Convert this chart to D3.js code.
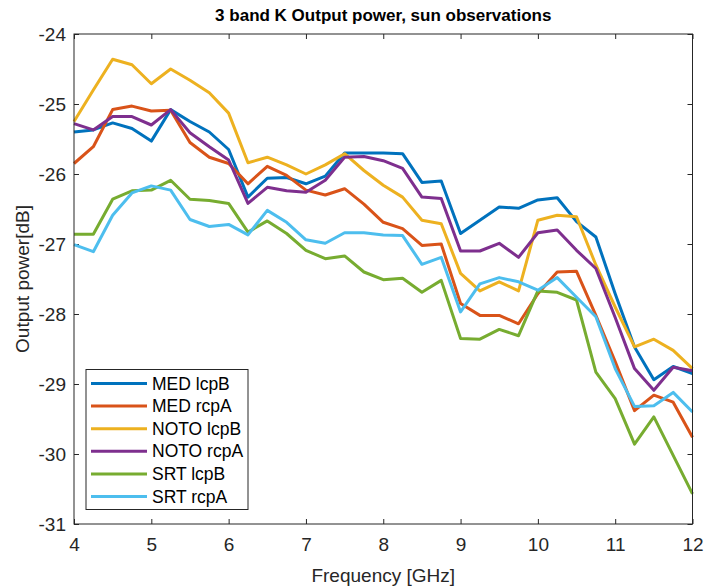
<!DOCTYPE html>
<html>
<head>
<meta charset="utf-8">
<script src="https://cdn.jsdelivr.net/npm/d3@7"></script>
<style>
  body { margin: 0; background: #fff; }
  svg { display: block; font-family: "Liberation Sans", Arial, sans-serif; }
  .axis path { display: none; }
  .axis line { stroke: #262626; }
  .axis text { fill: #262626; font-size: 19px; }
</style>
</head>
<body>
<div class="chart"></div>
<script>
const freqs = [4, 4.25, 4.5, 4.75, 5, 5.25, 5.5, 5.75, 6, 6.25, 6.5, 6.75, 7, 7.25, 7.5, 7.75,
    8, 8.25, 8.5, 8.75, 9, 9.25, 9.5, 9.75, 10, 10.25, 10.5, 10.75, 11, 11.25, 11.5, 11.75, 12]

const medLcpB = [-25.40, -25.37, -25.27, -25.35, -25.53, -25.08, -25.25, -25.40, -25.65, -26.33, -26.06,
    -26.05, -26.14, -26.03, -25.70, -25.70, -25.70, -25.71, -26.12, -26.10, -26.85, -26.66, -26.47,
    -26.49, -26.37, -26.34, -26.68, -26.90, -27.71, -28.47, -28.94, -28.75, -28.85]
const medRcpA = [-25.85, -25.61, -25.08, -25.03, -25.10, -25.09, -25.55, -25.76, -25.85, -26.14, -25.89,
    -26.02, -26.23, -26.30, -26.21, -26.43, -26.69, -26.78, -27.02, -27.00, -27.85, -28.02, -28.02,
    -28.14, -27.71, -27.40, -27.39, -28.02, -28.68, -29.38, -29.16, -29.26, -29.76]
const notoLcpB = [-25.25, -24.80, -24.36, -24.44, -24.71, -24.50, -24.66, -24.84, -25.13, -25.84, -25.76,
    -25.87, -26.00, -25.87, -25.71, -25.95, -26.16, -26.33, -26.66, -26.71, -27.42, -27.67, -27.54,
    -27.67, -26.66, -26.59, -26.61, -27.30, -27.90, -28.47, -28.36, -28.52, -28.78]
const notoRcpA = [-25.28, -25.37, -25.18, -25.18, -25.30, -25.08, -25.41, -25.61, -25.80, -26.42, -26.19,
    -26.24, -26.26, -26.09, -25.76, -25.75, -25.81, -25.92, -26.33, -26.35, -27.10, -27.10, -26.99,
    -27.19, -26.84, -26.80, -27.09, -27.35, -28.05, -28.78, -29.09, -28.76, -28.81]
const srtLcpB = [-26.86, -26.86, -26.36, -26.24, -26.23, -26.09, -26.36, -26.38, -26.42, -26.83, -26.67,
    -26.85, -27.09, -27.21, -27.17, -27.40, -27.51, -27.49, -27.69, -27.52, -28.35, -28.36, -28.22,
    -28.31, -27.67, -27.69, -27.80, -28.83, -29.21, -29.86, -29.47, -30.02, -30.57]
const srtRcpA = [-27.01, -27.11, -26.59, -26.27, -26.17, -26.23, -26.65, -26.75, -26.72, -26.87, -26.52,
    -26.69, -26.94, -26.99, -26.84, -26.84, -26.87, -26.88, -27.29, -27.19, -27.97, -27.57, -27.48,
    -27.54, -27.66, -27.48, -27.76, -28.04, -28.78, -29.32, -29.31, -29.12, -29.40]

const seriesNames = ['MED lcpB', 'MED rcpA', 'NOTO lcpB', 'NOTO rcpA', 'SRT lcpB', 'SRT rcpA']
const seriesValues = [medLcpB, medRcpA, notoLcpB, notoRcpA, srtLcpB, srtRcpA]
const seriesColors = ['#0072BD', '#D95319', '#EDB120', '#7E2F8E', '#77AC30', '#4DBEEE']

const xTicks = [4, 5, 6, 7, 8, 9, 10, 11, 12]
const yTicks = [-31, -30, -29, -28, -27, -26, -25, -24]

const svgWidth = 704
const svgHeight = 588
const margin = {top: 34, right: 11.5, bottom: 64, left: 74}
const graphWidth = svgWidth - margin.left - margin.right
const graphHeight = svgHeight - margin.top - margin.bottom

const svg = d3.select('.chart')
    .append('svg')
    .attr('width', svgWidth)
    .attr('height', svgHeight)

svg.append('rect')
    .attr('width', svgWidth)
    .attr('height', svgHeight)
    .attr('fill', '#fff')

const graph = svg.append('g')
    .attr('transform', `translate(${margin.left},${margin.top})`)

const xScale = d3.scaleLinear().domain([4, 12]).range([0, graphWidth])
const yScale = d3.scaleLinear().domain([-31, -24]).range([graphHeight, 0])

const plainFormat = d => String(d)

// axes, ticks pointing inwards like matlab
graph.append('g')
    .attr('class', 'axis')
    .attr('transform', `translate(0,${graphHeight})`)
    .call(d3.axisBottom(xScale).tickValues(xTicks).tickSizeInner(-5).tickSizeOuter(0)
        .tickPadding(14).tickFormat(plainFormat))
graph.append('g')
    .attr('class', 'axis')
    .call(d3.axisTop(xScale).tickValues(xTicks).tickSizeInner(-5).tickSizeOuter(0).tickFormat(''))
graph.append('g')
    .attr('class', 'axis')
    .call(d3.axisLeft(yScale).tickValues(yTicks).tickSizeInner(-5).tickSizeOuter(0)
        .tickPadding(8).tickFormat(plainFormat))
graph.append('g')
    .attr('class', 'axis')
    .attr('transform', `translate(${graphWidth},0)`)
    .call(d3.axisRight(yScale).tickValues(yTicks).tickSizeInner(-5).tickSizeOuter(0).tickFormat(''))

const line = d3.line()
    .x((d, i) => xScale(freqs[i]))
    .y(d => yScale(d))

graph.selectAll('.series')
    .data(seriesValues)
    .join('path')
    .attr('class', 'series')
    .attr('d', d => line(d))
    .attr('fill', 'none')
    .attr('stroke', (d, i) => seriesColors[i])
    .attr('stroke-width', 3)
    .attr('stroke-linejoin', 'round')

graph.append('rect')
    .attr('width', graphWidth)
    .attr('height', graphHeight)
    .attr('fill', 'none')
    .attr('stroke', '#262626')
    .attr('stroke-width', 1)

// legend
const legend = svg.append('g')
    .attr('transform', 'translate(86,369.5)')
legend.append('rect')
    .attr('width', 162)
    .attr('height', 140)
    .attr('fill', '#fff')
    .attr('stroke', '#262626')
    .attr('stroke-width', 1)
const rows = legend.selectAll('.row')
    .data(seriesNames)
    .join('g')
    .attr('class', 'row')
    .attr('transform', (d, i) => `translate(0,${14 + i * 22.6})`)
rows.append('line')
    .attr('x1', 5)
    .attr('x2', 61)
    .attr('stroke', (d, i) => seriesColors[i])
    .attr('stroke-width', 3)
rows.append('text')
    .attr('x', 66)
    .attr('dy', '0.35em')
    .attr('font-size', 17.5)
    .attr('fill', '#000')
    .text(d => d)

svg.append('text')
    .attr('x', margin.left + graphWidth / 2)
    .attr('y', 21)
    .attr('text-anchor', 'middle')
    .attr('font-size', 17)
    .attr('font-weight', 'bold')
    .attr('fill', '#000')
    .text('3 band K Output power, sun observations')

svg.append('text')
    .attr('x', margin.left + graphWidth / 2)
    .attr('y', 582)
    .attr('text-anchor', 'middle')
    .attr('font-size', 19)
    .attr('fill', '#262626')
    .text('Frequency [GHz]')

svg.append('text')
    .attr('transform', `translate(29,${margin.top + graphHeight / 2}) rotate(-90)`)
    .attr('text-anchor', 'middle')
    .attr('font-size', 19)
    .attr('fill', '#262626')
    .text('Output power[dB]')
</script>
</body>
</html>
